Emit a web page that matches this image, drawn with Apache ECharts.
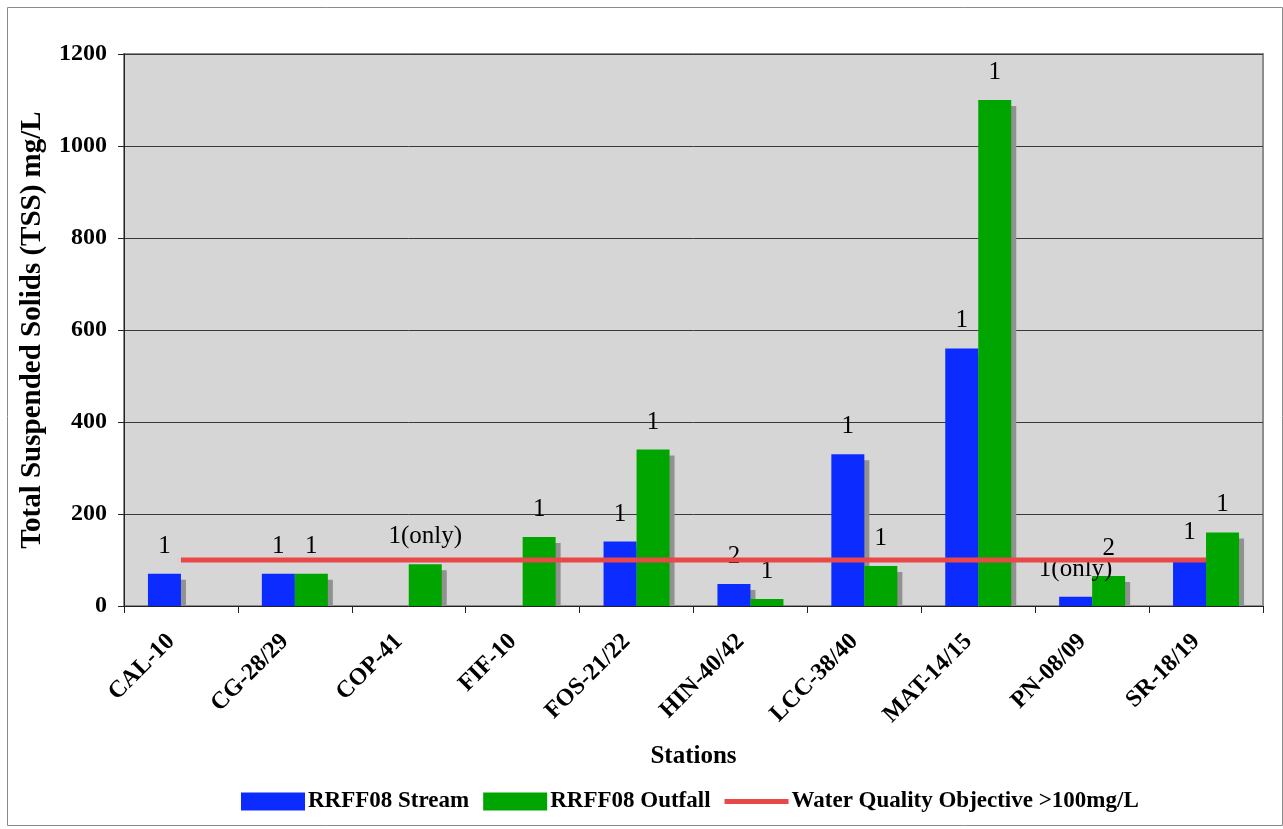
<!DOCTYPE html>
<html>
<head>
<meta charset="utf-8">
<script src="https://cdn.jsdelivr.net/npm/echarts@6/dist/echarts.min.js"></script>
<style>
  html, body { margin: 0; padding: 0; background: #fff; }
  #chart { width: 1283px; height: 829px; }
</style>
</head>
<body>
<div id="chart"></div>
<script>
// Station codes along the x axis
const stations = ['CAL-10', 'CG-28/29', 'COP-41', 'FIF-10', 'FOS-21/22',
                  'HIN-40/42', 'LCC-38/40', 'MAT-14/15', 'PN-08/09', 'SR-18/19'];

// TSS results (mg/L); null where no sample was taken
const streamTSS  = [70, 70, null, null, 140, 48, 330, 560, 20, 100];
const outfallTSS = [null, 70, 91, 150, 340, 15, 87, 1100, 65, 160];

// Number of samples behind each bar
const streamCounts  = ['1', '1', null, null, '1', '2', '1', '1', '1(only)', '1'];
const outfallCounts = [null, '1', '1(only)', '1', '1', '1', '1', '1', '2', '1'];

// Water quality objective threshold (mg/L)
const objective = 100;
const objectiveLine = stations.map(() => objective);

// Value axis ticks
const yTicks = [0, 200, 400, 600, 800, 1000, 1200];

const serif = '"Liberation Serif", "Times New Roman", serif';

const chart = echarts.init(document.getElementById('chart'), null, { renderer: 'canvas' });

const barLabel = (counts) => ({
  show: true,
  position: 'top',
  distance: 15,
  fontFamily: serif,
  fontSize: 25,
  color: '#000',
  formatter: (p) => counts[p.dataIndex] || ''
});

// flat grey drop shadow behind each bar
const shadow = {
  shadowColor: '#919191',
  shadowBlur: 0,
  shadowOffsetX: 5,
  shadowOffsetY: 6
};

chart.setOption({
  animation: false,
  backgroundColor: '#fff',
  textStyle: { fontFamily: serif },
  graphic: [
    {
      // outer chart frame
      type: 'rect',
      shape: { x: 7.5, y: 7.5, width: 1275, height: 818 },
      style: { fill: 'none', stroke: '#8a8a8a', lineWidth: 1 },
      z: 100
    },
    {
      // keeps the bar shadows from spilling below the baseline
      type: 'rect',
      shape: { x: 125, y: 606.5, width: 1150, height: 8 },
      style: { fill: '#fff' },
      z: 5
    }
  ],
  grid: {
    left: 124, right: 20, top: 54, bottom: 223,
    show: true,
    backgroundColor: '#d6d6d6',
    borderColor: '#8c8c8c',
    borderWidth: 2
  },
  legend: {
    bottom: 11,
    left: 236,
    itemWidth: 64,
    itemHeight: 18,
    itemGap: 14,
    textStyle: { fontFamily: serif, fontWeight: 'bold', fontSize: 23, color: '#000', padding: [0, 0, 0, -2] },
    data: [
      { name: 'RRFF08 Stream', icon: 'rect' },
      { name: 'RRFF08 Outfall', icon: 'rect' },
      { name: 'Water Quality Objective >100mg/L', icon: 'path://M0,0H64V5H0Z' }
    ]
  },
  xAxis: {
    type: 'category',
    data: stations,
    z: 10,
    name: 'Stations',
    nameLocation: 'middle',
    nameGap: 138,
    nameTextStyle: { fontFamily: serif, fontWeight: 'bold', fontSize: 25, color: '#000' },
    axisLine: { lineStyle: { color: '#222', width: 1 } },
    axisTick: { show: true, length: 7, lineStyle: { color: '#222' } },
    axisLabel: {
      rotate: 45,
      margin: 22,
      padding: [0, 14, 0, 0],
      fontFamily: serif,
      fontWeight: 'bold',
      fontSize: 24,
      color: '#000',
      interval: 0
    },
    splitLine: { show: false }
  },
  yAxis: {
    type: 'value',
    min: yTicks[0],
    max: yTicks[yTicks.length - 1],
    interval: yTicks[1] - yTicks[0],
    name: 'Total Suspended Solids (TSS) mg/L',
    nameLocation: 'middle',
    nameRotate: 90,
    nameGap: 77,
    nameTextStyle: { fontFamily: serif, fontWeight: 'bold', fontSize: 29, color: '#000' },
    axisLine: { show: true, lineStyle: { color: '#222', width: 1 } },
    axisTick: { show: true, length: 6, lineStyle: { color: '#222' } },
    axisLabel: {
      margin: 17,
      fontFamily: serif,
      fontWeight: 'bold',
      fontSize: 24,
      color: '#000',
      formatter: (v) => String(v)
    },
    splitLine: { show: true, lineStyle: { color: '#3a3a3a', width: 1 } }
  },
  series: [
    {
      name: 'RRFF08 Stream',
      type: 'bar',
      data: streamTSS,
      barWidth: 33,
      barGap: '0%',
      itemStyle: Object.assign({ color: '#0c2cff' }, shadow),
      label: barLabel(streamCounts)
    },
    {
      name: 'RRFF08 Outfall',
      type: 'bar',
      data: outfallTSS,
      barWidth: 33,
      barGap: '0%',
      itemStyle: Object.assign({ color: '#00a500' }, shadow),
      label: barLabel(outfallCounts)
    },
    {
      name: 'Water Quality Objective >100mg/L',
      type: 'line',
      data: objectiveLine,
      symbol: 'none',
      lineStyle: { color: '#e84848', width: 5 },
      itemStyle: { color: '#e84848' },
      z: 3
    }
  ]
});
</script>
</body>
</html>
